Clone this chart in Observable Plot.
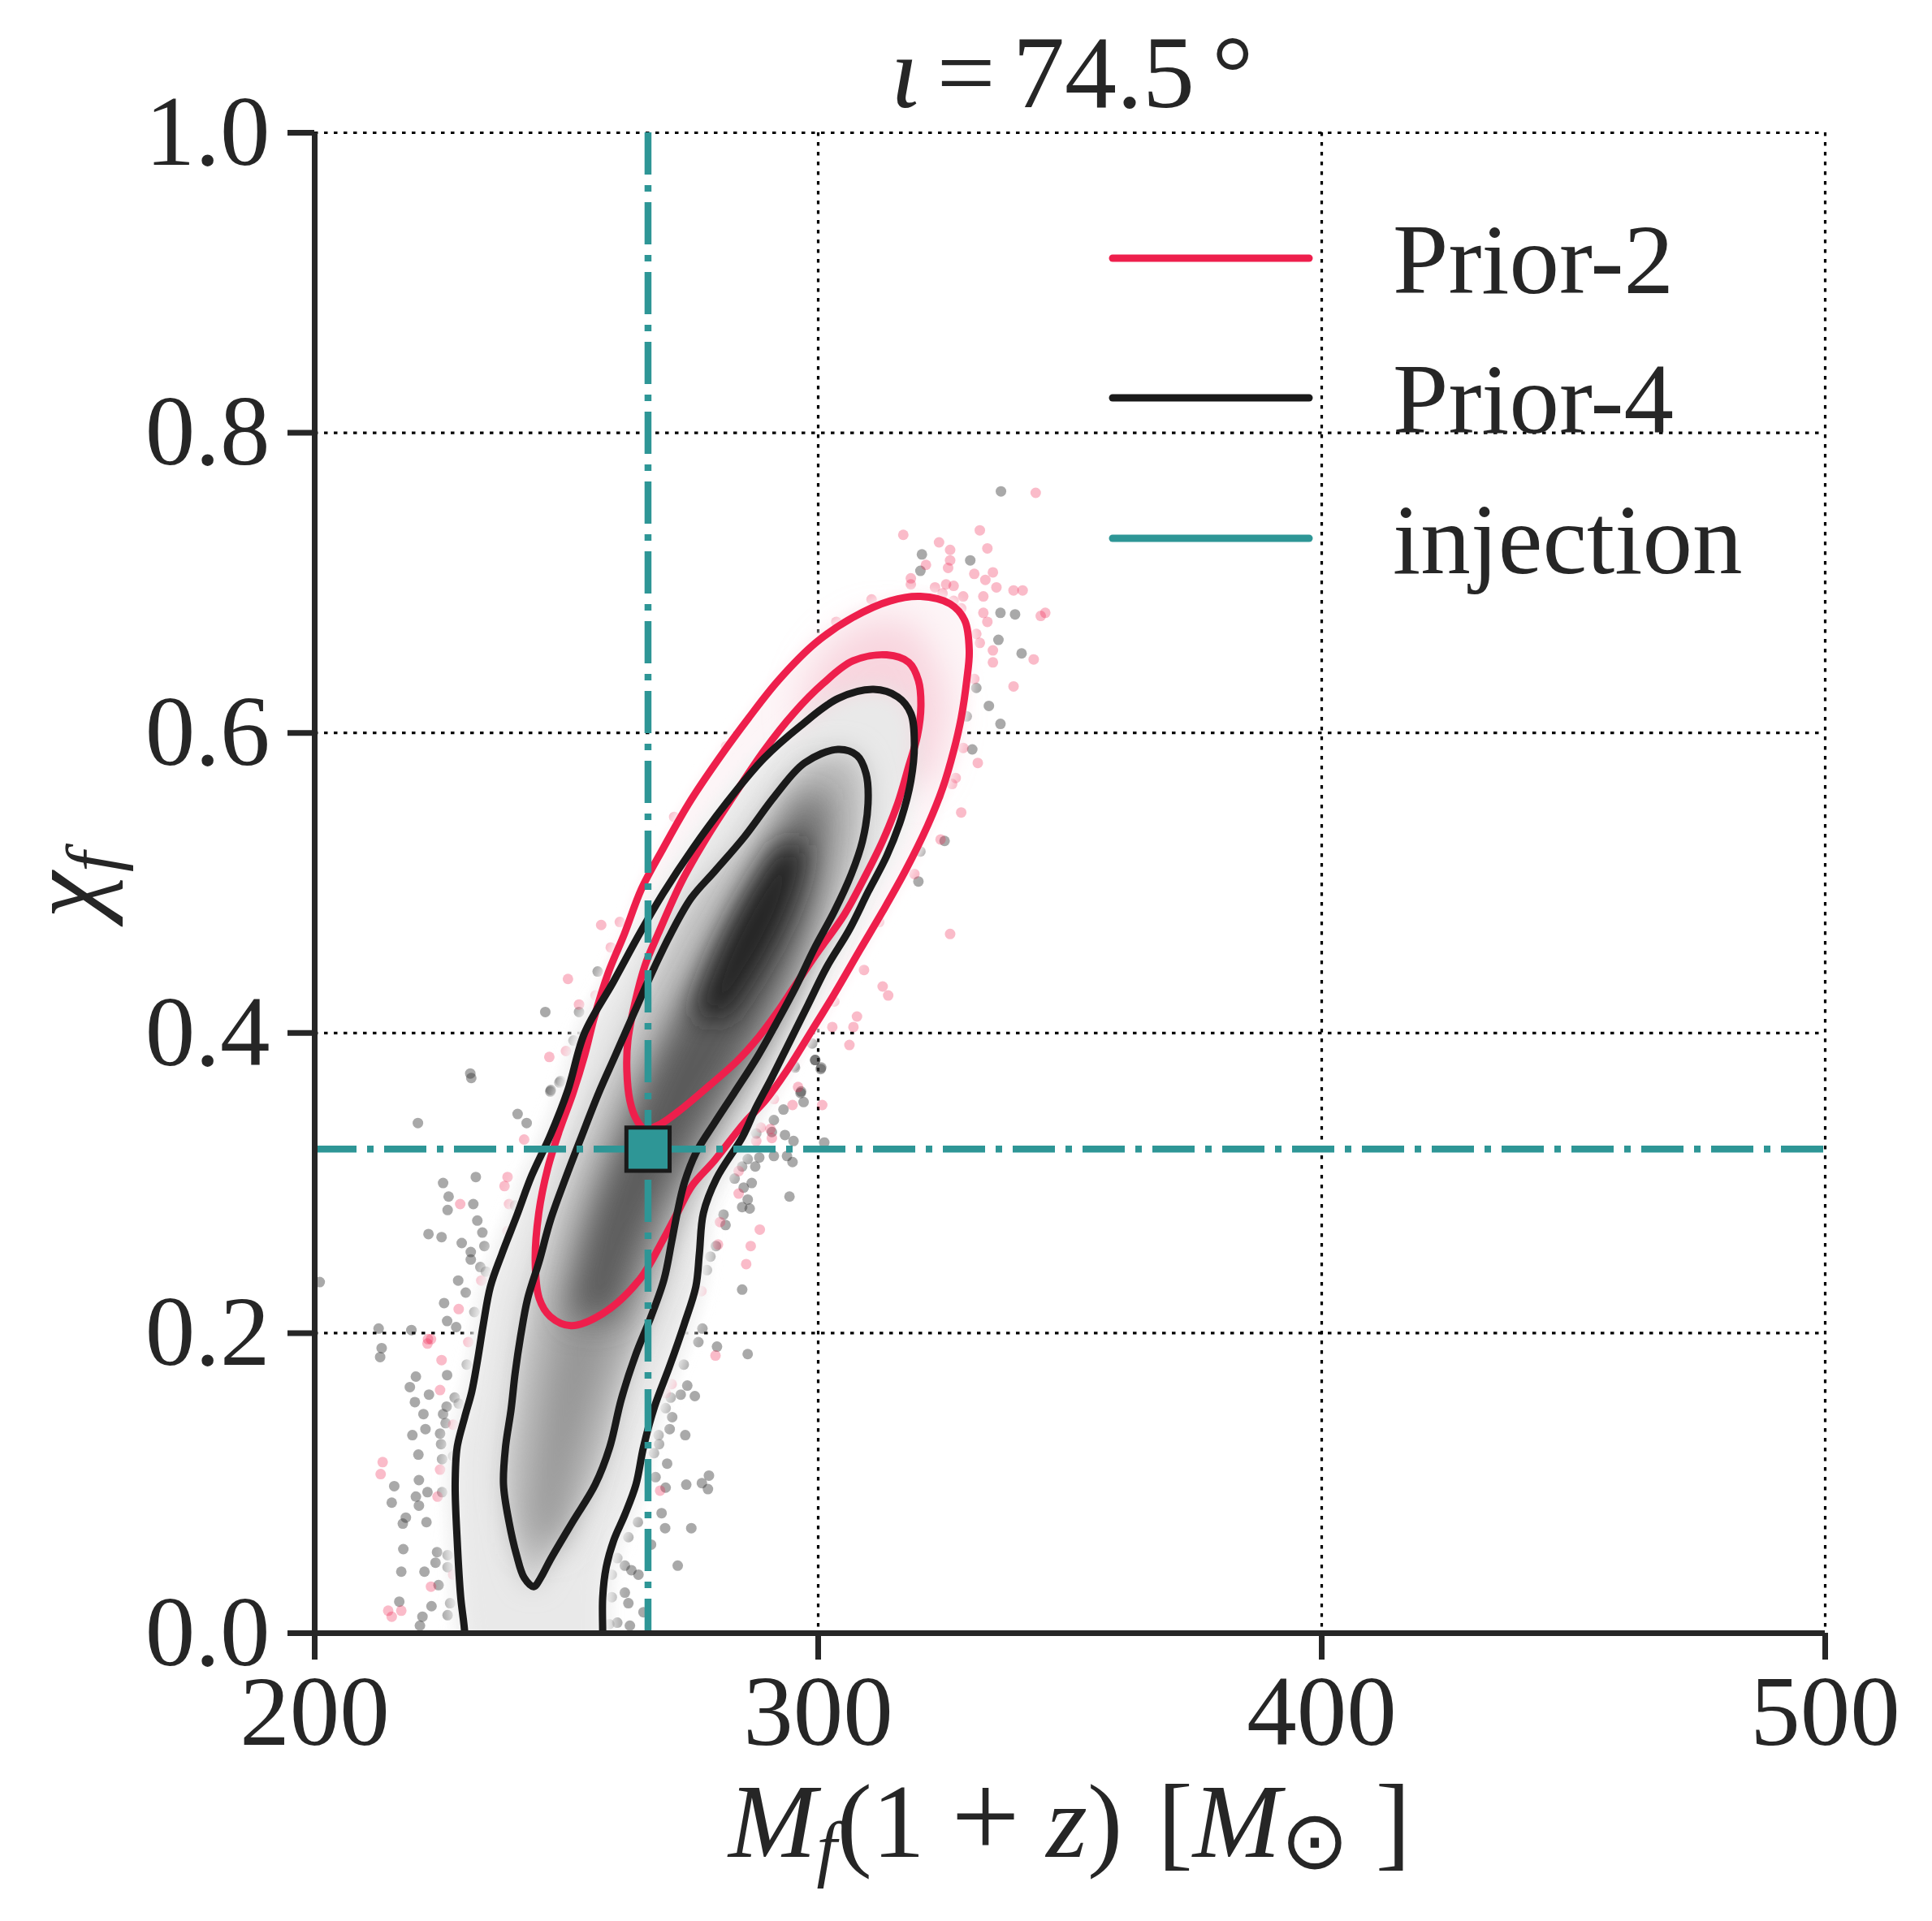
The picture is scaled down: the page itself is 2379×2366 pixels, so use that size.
<!DOCTYPE html>
<html>
<head>
<meta charset="utf-8">
<script src="https://cdn.jsdelivr.net/npm/d3@7"></script>
<script src="https://cdn.jsdelivr.net/npm/@observablehq/plot@0.6"></script>
<style>
  body { margin: 0; background: #fff; }
  #chart { width: 2379px; height: 2366px; }
</style>
</head>
<body>
<div id="chart"></div>
<script>
// ---------------- data ----------------
const xTicks = [200, 300, 400, 500];
const yTicks = [0.0, 0.2, 0.4, 0.6, 0.8, 1.0];
const injection = [{x: 266.2, y: 0.3226}];
const legendLabels = ["Prior-2", "Prior-4", "injection"];

// Prior-2 contours (closed)
const prior2Outer = [
  [320.3,0.691],[326.2,0.686],[329.1,0.675],[330.0,0.655],[329.5,0.635],[328.4,0.610],[326.9,0.588],
  [324.7,0.563],[321.7,0.538],[317.3,0.508],[312.8,0.481],[308.4,0.456],[303.2,0.426],[298.8,0.402],
  [293.6,0.374],[289.5,0.355],[285.3,0.340],[279.4,0.315],[274.9,0.298],[272.0,0.280],[269.0,0.261],
  [264.6,0.236],[257.2,0.213],[250.9,0.205],[246.8,0.211],[244.6,0.223],[243.8,0.248],[244.5,0.280],
  [246.3,0.310],[248.6,0.335],[251.3,0.360],[253.6,0.385],[255.5,0.410],[258.3,0.440],[261.5,0.466],
  [264.9,0.496],[269.2,0.523],[274.3,0.553],[280.3,0.583],[286.2,0.610],[292.1,0.635],[299.5,0.660],
  [306.9,0.677],[314.3,0.688]
];
const prior2Inner = [
  [313.6,0.652],[318.0,0.647],[319.9,0.635],[320.4,0.618],[319.7,0.598],[318.0,0.578],[315.8,0.553],
  [312.8,0.528],[309.1,0.503],[305.2,0.479],[299.5,0.452],[295.1,0.430],[291.9,0.414],[288.1,0.397],
  [283.8,0.381],[278.4,0.365],[273.1,0.350],[268.5,0.339],[265.5,0.336],[263.8,0.343],[262.6,0.355],
  [262.0,0.375],[262.2,0.395],[263.6,0.420],[265.6,0.445],[268.2,0.466],[272.9,0.501],[278.0,0.531],
  [283.2,0.558],[289.2,0.588],[295.1,0.613],[301.0,0.633],[306.9,0.648]
];
// Prior-4 contours (outer one is cut by the axis at chi_f = 0)
const prior4Outer = [
  [229.8,-0.02],[229.8,0.0],[229.0,0.024],[228.3,0.062],[227.9,0.099],[228.3,0.124],[229.8,0.144],
  [231.2,0.161],[232.3,0.181],[233.5,0.206],[234.9,0.231],[237.2,0.253],[240.1,0.278],[243.1,0.305],
  [246.7,0.331],[250.3,0.362],[253.6,0.400],[259.3,0.434],[264.5,0.466],[269.2,0.493],[275.1,0.523],
  [281.7,0.553],[289.2,0.583],[296.6,0.605],[304.0,0.623],[311.0,0.629],[315.8,0.624],[318.4,0.613],
  [319.1,0.593],[318.4,0.568],[316.5,0.543],[313.6,0.518],[309.9,0.494],[306.2,0.469],[301.7,0.444],
  [298.0,0.419],[294.3,0.394],[290.6,0.369],[287.6,0.350],[285.0,0.331],[279.8,0.303],[277.2,0.280],
  [276.4,0.253],[275.7,0.231],[273.4,0.206],[270.5,0.178],[267.5,0.151],[265.3,0.124],[263.8,0.099],
  [261.6,0.079],[259.4,0.062],[257.9,0.044],[257.2,0.024],[257.2,0.0],[257.2,-0.02]
];
const prior4Inner = [
  [303.9,0.589],[307.7,0.585],[309.5,0.573],[309.9,0.553],[308.8,0.528],[306.6,0.506],[303.2,0.481],
  [299.2,0.456],[295.6,0.431],[291.6,0.406],[287.9,0.384],[283.3,0.360],[279.4,0.340],[275.7,0.320],
  [273.4,0.300],[272.0,0.280],[270.9,0.261],[269.4,0.236],[266.8,0.211],[263.8,0.186],[260.9,0.156],
  [258.6,0.124],[255.7,0.099],[251.2,0.074],[246.8,0.049],[244.9,0.037],[243.5,0.031],[241.6,0.037],
  [240.1,0.052],[238.6,0.074],[237.5,0.099],[237.9,0.124],[239.0,0.149],[239.8,0.173],[240.9,0.198],
  [242.3,0.223],[244.6,0.248],[246.8,0.275],[249.8,0.303],[253.0,0.331],[256.4,0.360],[259.7,0.385],
  [263.5,0.414],[267.5,0.444],[270.7,0.466],[274.8,0.490],[279.5,0.508],[285.4,0.531],[291.4,0.558],
  [297.3,0.580]
];
// grey-scale density shading of Prior-4: [chi_f, left M, right M]
const shadeBand1 = [[0.06,242.5,248.5],[0.10,243,251.5],[0.14,244.5,255],[0.18,246,259],[0.22,248.5,263.5],[0.26,252,268.5],
  [0.30,256,274],[0.34,261,280.5],[0.38,267,287.5],[0.42,273,293.5],[0.46,280,299],[0.50,287,302.5],
  [0.54,294,304.5],[0.57,299.5,303.5]];
const shadeBand2 = [[0.21,250.5,260],[0.25,253,263.5],[0.29,256.5,268.5],[0.33,261.5,275],[0.37,266.5,282],
  [0.41,272.5,289],[0.45,279,294.5],[0.49,286,298.5],[0.53,293,300],[0.555,297,300]];
const shadeBand3 = [[0.41,275.5,282],[0.44,278.5,288],[0.47,282.5,293],[0.50,287.5,296.5],[0.525,292.5,297.5]];
// pink density shading of Prior-2 near its top
const pinkBand = [[0.565,301,322],[0.60,296,326],[0.63,297,326],[0.66,302,322],[0.675,310,318]];

// scattered samples outside the contours
const prior4Samples = [
  [320.6,0.719],[330.2,0.715],[320.3,0.708],[336.2,0.680],[339.1,0.679],[335.8,0.662],[340.4,0.653],
  [331.4,0.630],[333.9,0.618],[329.5,0.611],[336.2,0.606],[330.6,0.589],[323.9,0.558],[320.3,0.521],
  [325.1,0.528],[319.9,0.501],[319.1,0.523],[245.8,0.414],[252.5,0.414],[256.2,0.441],[251.4,0.395],
  [248.8,0.368],[246.9,0.362],[299.9,0.411],[298.8,0.393],[299.4,0.382],[300.6,0.377],[295.4,0.377],
  [296.6,0.361],[336.3,0.761],[231.1,0.370],[201.0,0.234],[213.0,0.184],[217.5,0.073],[215.8,0.098],
  [230.9,0.373],[220.5,0.340],[248.6,0.367],[246.8,0.361],[240.3,0.346],[242.1,0.340],[225.5,0.300],
  [232.0,0.304],[226.6,0.291],[226.4,0.282],[231.5,0.286],[239.8,0.285],[232.3,0.275],[222.6,0.266],
  [233.3,0.267],[225.2,0.264],[229.2,0.260],[233.7,0.258],[231.0,0.254],[231.0,0.249],[232.9,0.244],
  [234.0,0.241],[228.5,0.235],[230.0,0.227],[225.7,0.220],[231.7,0.214],[226.3,0.208],[228.1,0.204],
  [219.2,0.202],[212.7,0.203],[213.3,0.190],[230.2,0.179],[226.3,0.172],[220.1,0.171],[218.9,0.164],
  [222.7,0.159],[227.8,0.157],[219.9,0.154],[226.2,0.151],[221.6,0.146],[225.5,0.146],[228.6,0.153],
  [226.0,0.140],[222.0,0.136],[224.9,0.133],[219.4,0.132],[225.1,0.126],[227.5,0.118],[220.6,0.119],
  [225.3,0.116],[220.7,0.102],[222.4,0.094],[225.3,0.094],[220.1,0.091],[215.3,0.087],[220.7,0.085],
  [218.1,0.077],[222.2,0.074],[217.6,0.056],[224.3,0.054],[226.4,0.052],[224.0,0.047],[226.4,0.044],
  [221.8,0.041],[217.2,0.041],[224.6,0.032],[223.2,0.018],[221.4,0.011],[226.9,0.020],[220.9,0.005],
  [226.4,0.012],[216.8,0.021],
  [299.4,0.382],[300.5,0.376],[295.3,0.378],[296.5,0.360],[297.1,0.354],[293.1,0.349],[291.2,0.342],
  [293.4,0.332],[290.8,0.334],[287.7,0.333],[295.1,0.328],[301.2,0.327],[293.8,0.318],[291.2,0.318],
  [294.9,0.314],[288.3,0.317],[286.0,0.316],[287.5,0.311],[284.9,0.311],[283.4,0.303],[286.8,0.300],
  [285.2,0.297],[286.0,0.289],[284.9,0.284],[286.4,0.283],[281.2,0.279],[281.6,0.272],[294.3,0.291],
  [279.7,0.258],[278.6,0.251],[277.9,0.242],[284.9,0.229],[277.0,0.203],[276.2,0.194],[279.9,0.191],
  [286.0,0.186],[273.3,0.179],[274.0,0.165],[272.7,0.159],[275.5,0.158],[270.7,0.157],[269.7,0.150],
  [271.0,0.144],[270.5,0.136],[273.6,0.132],[268.3,0.132],[268.4,0.126],[267.4,0.120],[270.0,0.113],
  [267.7,0.104],[269.7,0.097],[278.3,0.105],[273.8,0.099],[278.1,0.096],[276.9,0.100],[268.9,0.080],
  [264.2,0.074],[269.6,0.070],[274.8,0.070],[262.3,0.064],[266.8,0.059],[272.1,0.045],[261.6,0.045],
  [262.9,0.042],[264.3,0.039],[259.0,0.039],[260.1,0.050],[261.6,0.027],[262.3,0.020],[265.3,0.014],
  [259.0,0.024],[262.6,0.005],[260.1,0.007],[258.5,0.006]
];
const prior2Samples = [
  [316.9,0.732],[324.0,0.727],[332.1,0.735],[326.2,0.722],[333.6,0.723],[326.2,0.715],[321.4,0.712],
  [325.8,0.710],[318.4,0.703],[331.0,0.706],[334.7,0.707],[333.2,0.702],[318.4,0.699],[325.4,0.699],
  [326.9,0.698],[323.2,0.697],[335.4,0.697],[338.8,0.695],[340.6,0.695],[324.7,0.693],[328.8,0.691],
  [332.8,0.691],[326.9,0.688],[328.4,0.683],[332.8,0.680],[345.1,0.680],[333.6,0.674],[331.4,0.666],
  [332.1,0.660],[334.7,0.655],[342.8,0.649],[334.7,0.647],[338.8,0.631],[331.0,0.636],[328.8,0.590],
  [331.7,0.580],[327.3,0.570],[326.6,0.566],[328.4,0.547],[321.7,0.544],[324.3,0.529],[319.1,0.506],
  [312.1,0.474],[326.2,0.466],[309.5,0.464],[309.1,0.442],[312.8,0.431],[313.9,0.425],[303.2,0.421],
  [307.7,0.411],[307.0,0.404],[302.8,0.404],[306.2,0.392],[271.4,0.544],[281.7,0.591],[310.6,0.689],
  [303.6,0.674],[256.9,0.472],[260.6,0.474],[258.8,0.457],[250.3,0.436],[255.8,0.425],[252.5,0.419],
  [249.9,0.388],[246.6,0.384],[343.2,0.760],[344.2,0.678],[215.3,0.011],[222.4,0.193],
  [241.6,0.329],[238.3,0.304],[237.7,0.298],[228.9,0.286],[238.6,0.286],[238.3,0.268],[233.1,0.235],
  [228.6,0.216],[223.1,0.196],[222.5,0.196],[230.5,0.194],[225.2,0.182],[224.9,0.162],[227.5,0.139],
  [213.5,0.114],[213.1,0.106],[224.9,0.109],[224.4,0.091],[227.5,0.039],[223.1,0.031],[214.6,0.015],
  [217.2,0.015],
  [296.0,0.364],[294.9,0.352],[300.8,0.352],[291.2,0.356],[288.6,0.337],[290.5,0.336],[287.7,0.328],
  [290.8,0.330],[284.2,0.308],[284.2,0.293],[280.5,0.274],[288.4,0.269],[280.1,0.259],[286.6,0.258],
  [285.7,0.246],[276.8,0.228],[279.6,0.185],[270.9,0.166],[269.7,0.160],[268.6,0.095]
];

// ---------------- rendering ----------------
const W = 2379, H = 2366;
const ML = 387, MR = 132, MT = 163, MB = 355;
const RED = "#ee1f4c", BLACK = "#1a1a1a", TEAL = "#2e9696", INK = "#262626";
const FONT = "'Liberation Serif','Times New Roman',serif";
const LW = 9;
const pts = a => a.map(([x, y]) => ({x, y}));
const band = a => a.map(([y, lo, hi]) => ({y, lo, hi}));
const outerFill = pts(prior4Outer.concat([[257.2,-0.05],[229.8,-0.05]]));

const chart = Plot.plot({
  width: W, height: H,
  marginLeft: ML, marginRight: MR, marginTop: MT, marginBottom: MB,
  x: {domain: [200, 500]},
  y: {domain: [0, 1]},
  style: {fontFamily: FONT, color: INK, background: "#fff", overflow: "visible"},
  marks: [
    Plot.gridX({ticks: xTicks.slice(1), stroke: "#000", strokeOpacity: 1, strokeWidth: 3.2, strokeDasharray: "4.5,7.5"}),
    Plot.gridY({ticks: yTicks.slice(1), stroke: "#000", strokeOpacity: 1, strokeWidth: 3.2, strokeDasharray: "4.5,7.5"}),
    Plot.dot(pts(prior4Samples), {x: "x", y: "y", r: 6.5, fill: "#333", fillOpacity: 0.42, clip: true}),
    Plot.dot(pts(prior2Samples), {x: "x", y: "y", r: 6.5, fill: RED, fillOpacity: 0.3, clip: true}),
    // density base (opaque, hides grid and samples inside)
    Plot.line(pts(prior2Outer), {x: "x", y: "y", curve: "catmull-rom-closed", fill: "#fdf5f7", stroke: "#fdf5f7", strokeWidth: 14, clip: true, ariaDescription: "b6"}),
    Plot.line(outerFill, {x: "x", y: "y", curve: "catmull-rom-closed", fill: "#f6f6f6", stroke: "#f6f6f6", strokeWidth: 26, clip: true, ariaDescription: "b8"}),
    Plot.areaX(band(pinkBand), {y: "y", x1: "lo", x2: "hi", curve: "basis", fill: "#f4bccb", fillOpacity: 0.55, clip: true, ariaDescription: "b22"}),
    Plot.line(outerFill, {x: "x", y: "y", curve: "catmull-rom-closed", fill: "#e9e9e9", clip: true, ariaDescription: "b12"}),
    Plot.line(pts(prior4Inner), {x: "x", y: "y", curve: "catmull-rom-closed", fill: "#c2c2c2", clip: true, ariaDescription: "b16"}),
    Plot.areaX(band(shadeBand1), {y: "y", x1: "lo", x2: "hi", curve: "basis", fill: "#969696", clip: true, ariaDescription: "b22"}),
    Plot.areaX(band(shadeBand2), {y: "y", x1: "lo", x2: "hi", curve: "basis", fill: "#5a5a5a", clip: true, ariaDescription: "b20"}),
    Plot.areaX(band(shadeBand3), {y: "y", x1: "lo", x2: "hi", curve: "basis", fill: "#222222", clip: true, ariaDescription: "b16"}),
    // contour lines
    Plot.line(pts(prior2Outer), {x: "x", y: "y", curve: "catmull-rom-closed", stroke: RED, strokeWidth: LW}),
    Plot.line(pts(prior2Inner), {x: "x", y: "y", curve: "catmull-rom-closed", stroke: RED, strokeWidth: LW}),
    Plot.line(pts(prior4Outer), {x: "x", y: "y", curve: "catmull-rom", stroke: BLACK, strokeWidth: LW, clip: true}),
    Plot.line(pts(prior4Inner), {x: "x", y: "y", curve: "catmull-rom-closed", stroke: BLACK, strokeWidth: LW}),
    // injection
    Plot.ruleX(injection, {x: "x", stroke: TEAL, strokeWidth: 8.5, strokeDasharray: "52,13,8,13"}),
    Plot.ruleY(injection, {y: "y", stroke: TEAL, strokeWidth: 8.5, strokeDasharray: "52,13,8,13"}),
    Plot.dot(injection, {x: "x", y: "y", symbol: "square", r: 30, fill: TEAL, stroke: BLACK, strokeWidth: 5}),
    // spines + axes
    Plot.ruleX([200], {stroke: INK, strokeWidth: 7}),
    Plot.ruleY([0], {stroke: INK, strokeWidth: 7}),
    Plot.axisX({ticks: xTicks, tickSize: 33, tickPadding: 17, fontSize: 123, strokeWidth: 7, label: null}),
    Plot.axisY({ticks: yTicks, tickFormat: d3.format(".1f"), tickSize: 33, tickPadding: 22, fontSize: 123, strokeWidth: 7, label: null})
  ]
});
document.getElementById("chart").appendChild(chart);

// ---- blur filters for the density shading ----
const svg = d3.select(chart);
const defs = svg.insert("defs", ":first-child");
[6, 8, 12, 16, 20, 22].forEach(s => {
  defs.append("filter").attr("id", "b" + s)
    .attr("filterUnits", "userSpaceOnUse").attr("x", 0).attr("y", 0).attr("width", W).attr("height", H)
    .append("feGaussianBlur").attr("stdDeviation", s);
});
svg.selectAll("g[aria-description]").each(function () {
  const d = this.getAttribute("aria-description");
  if (/^b\d+$/.test(d)) this.setAttribute("filter", `url(#${d})`);
});

// ---- texts ----
const txt = svg.append("g").attr("fill", INK).attr("font-family", FONT).attr("text-anchor", "middle");
// title
const t = txt.append("text").attr("x", 1320).attr("y", 132).attr("font-size", 128);
t.append("tspan").attr("font-style", "italic").text("ι");
t.append("tspan").text("\u2006=\u200674.5\u2006°");
// x label
const xl = txt.append("text").attr("x", 1317).attr("y", 2287).attr("font-size", 130);
xl.append("tspan").attr("font-style", "italic").text("M");
xl.append("tspan").attr("font-style", "italic").attr("font-size", 90).attr("dy", 20).text("f");
xl.append("tspan").attr("dy", -20).text("(1\u2005");
xl.append("tspan").attr("font-size", 150).text("+");
xl.append("tspan").text("\u2005");
xl.append("tspan").attr("font-style", "italic").text("z");
xl.append("tspan").text(")\u2004[");
xl.append("tspan").attr("font-style", "italic").text("M");
xl.append("tspan").attr("font-size", 100).attr("dy", 14).text("\u2299");
xl.append("tspan").attr("dy", -14).text("\u2005]");
// y label
const yl = txt.append("text").attr("transform", "translate(123,1090) rotate(-90)").attr("font-size", 130);
yl.append("tspan").attr("font-style", "italic").text("χ");
yl.append("tspan").attr("font-style", "italic").attr("font-size", 90).attr("dy", 22).text("f");

// ---- legend ----
const legColors = [RED, BLACK, TEAL];
const legY = [318, 490, 663];
const leg = svg.append("g").attr("text-anchor", "start");
legendLabels.forEach((lab, i) => {
  leg.append("line").attr("x1", 1370).attr("x2", 1612).attr("y1", legY[i]).attr("y2", legY[i])
    .attr("stroke", legColors[i]).attr("stroke-width", LW).attr("stroke-linecap", "round");
  leg.append("text").attr("x", 1715).attr("y", legY[i] + 43).attr("font-size", 123)
    .attr("text-anchor", "start").attr("font-family", FONT).attr("fill", INK).text(lab);
});
</script>
</body>
</html>
